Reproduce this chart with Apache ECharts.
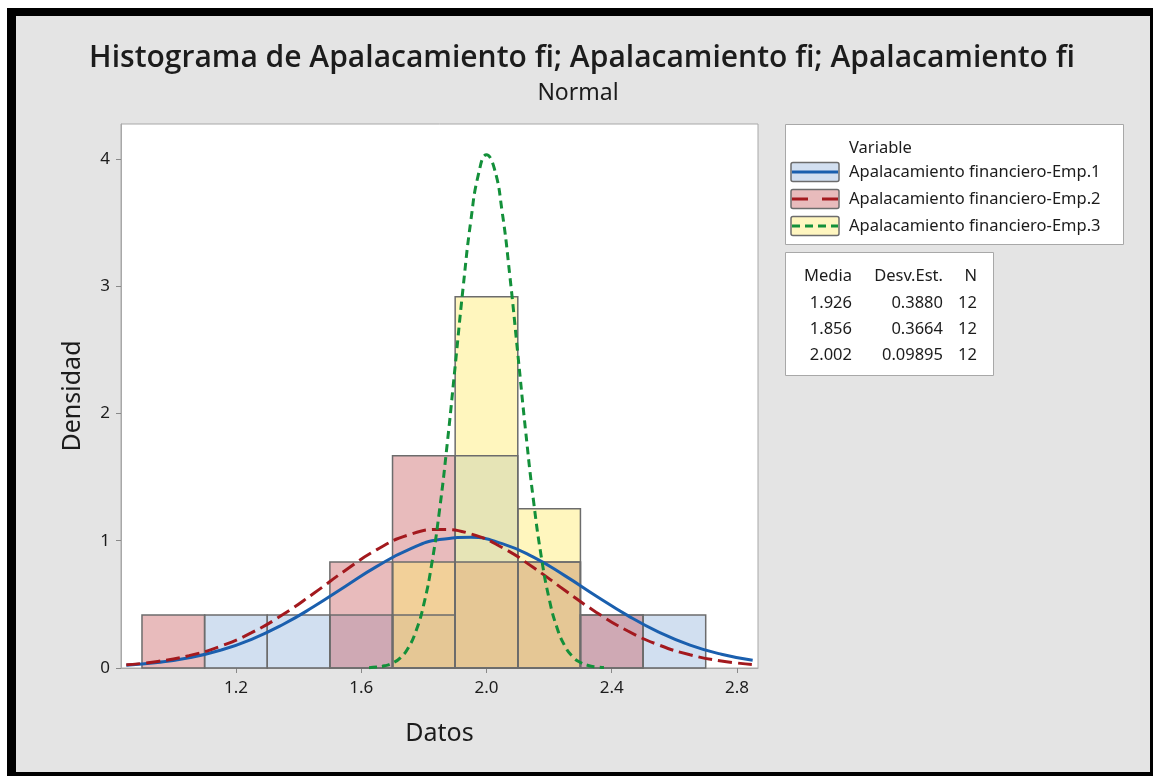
<!DOCTYPE html>
<html>
<head>
<meta charset="utf-8">
<script src="https://cdn.jsdelivr.net/npm/echarts@6/dist/echarts.min.js"></script>
<style>
  body { margin: 0; background: #fff; }
  #frame { position: absolute; left: 7px; top: 8px; width: 1146px; height: 768px; background: #000; }
  #panel { position: absolute; left: 16px; top: 16px; width: 1134px; height: 756px; background: #e4e4e4; }
  #chart { position: absolute; left: 0; top: 0; width: 1153px; height: 776px; }
</style>
</head>
<body>
<div id="frame"></div>
<div id="panel"></div>
<div id="chart"></div>
<script>
// histogram bins (width 0.2) and densities
const binEdges = [0.9, 1.1, 1.3, 1.5, 1.7, 1.9, 2.1, 2.3, 2.5, 2.7];
const dens1 = [0, 0.4167, 0.4167, 0.4167, 0.4167, 1.6667, 0.8333, 0.4167, 0.4167];
const dens2 = [0.4167, 0, 0, 0.8333, 1.6667, 0.8333, 0.8333, 0.4167, 0];
const dens3 = [0, 0, 0, 0, 0.8333, 2.9167, 1.25, 0, 0];

const seriesNames = [
  'Apalacamiento financiero-Emp.1',
  'Apalacamiento financiero-Emp.2',
  'Apalacamiento financiero-Emp.3'
];

// fitted normal curves
const curveX = [0.85, 0.95, 1.05, 1.15, 1.25, 1.35, 1.45, 1.55, 1.65, 1.75, 1.85,
  1.95, 2.05, 2.15, 2.25, 2.35, 2.45, 2.55, 2.65, 2.75, 2.85];
const fit1 = [0.022, 0.0435, 0.0804, 0.1391, 0.2254, 0.3417, 0.4845, 0.6429, 0.7984, 0.9277, 1.0087,
  1.0262, 0.977, 0.8704, 0.7255, 0.5659, 0.4131, 0.2822, 0.1803, 0.1078, 0.0603];
const fit2 = [0.0251, 0.0512, 0.0969, 0.1701, 0.2773, 0.4196, 0.5893, 0.7682, 0.9296, 1.0442, 1.0887,
  1.0535, 0.9464, 0.7892, 0.6107, 0.4388, 0.2926, 0.1811, 0.1041, 0.0555, 0.0275];
const fit3X = [1.625, 1.65, 1.675, 1.7, 1.725, 1.75, 1.775, 1.8, 1.825, 1.85, 1.875, 1.9, 1.925,
  1.95, 1.975, 2.0, 2.025, 2.05, 2.075, 2.1, 2.125, 2.15, 2.175, 2.2, 2.225, 2.25, 2.275, 2.3,
  2.325, 2.35, 2.375];
const fit3 = [0.0028, 0.0072, 0.0171, 0.0383, 0.0801, 0.1574, 0.2902, 0.5019, 0.8141, 1.2391,
  1.7692, 2.3703, 2.9787, 3.5117, 3.8846, 4.031, 3.9245, 3.5843, 3.0714, 2.4691, 1.8619, 1.3172,
  0.8745, 0.5447, 0.3181, 0.1743, 0.0896, 0.0433, 0.0196, 0.0083, 0.0033];

// summary table
const medias = ['1.926', '1.856', '2.002'];
const desvs = ['0.3880', '0.3664', '0.09895'];
const ns = ['12', '12', '12'];

const xTicks = [1.2, 1.6, 2.0, 2.4, 2.8];
const yTicks = [0, 1, 2, 3, 4];

const FONT = 'Noto Sans';
const fills = ['rgb(153,184,222)', 'rgb(204,104,106)', 'rgb(255,235,111)'];
const swatch = ['#d2dff0', '#e8bbbc', '#fff6c0'];
const lineColors = ['#1a5fae', '#a3191e', '#13903a'];
const lineDash = ['solid', [14, 6], [8, 5]];
const ALPHA = 0.45;

function toBars(dens) {
  const out = [];
  for (let i = 0; i < dens.length; i++) {
    if (dens[i] > 0) out.push([binEdges[i], binEdges[i + 1], dens[i]]);
  }
  return out;
}

function barRenderer(fill) {
  return function (params, api) {
    const p0 = api.coord([api.value(0), api.value(2)]);
    const p1 = api.coord([api.value(1), 0]);
    return {
      type: 'rect',
      shape: { x: p0[0], y: p0[1], width: p1[0] - p0[0], height: p1[1] - p0[1] },
      style: { fill: fill, opacity: ALPHA }
    };
  };
}

function edgeRenderer(params, api) {
  const p0 = api.coord([api.value(0), api.value(2)]);
  const p1 = api.coord([api.value(1), 0]);
  return {
    type: 'rect',
    shape: { x: p0[0], y: p0[1], width: p1[0] - p0[0], height: p1[1] - p0[1] },
    style: { fill: 'none', stroke: '#6c6c6c', lineWidth: 1.5 }
  };
}

const densAll = [dens1, dens2, dens3];
const fits = [
  curveX.map((x, i) => [x, fit1[i]]),
  curveX.map((x, i) => [x, fit2[i]]),
  fit3X.map((x, i) => [x, fit3[i]])
];

const series = [];
densAll.forEach((d, i) => {
  series.push({
    type: 'custom', name: seriesNames[i], renderItem: barRenderer(fills[i]),
    encode: { x: [0, 1], y: 2 }, data: toBars(d), z: 2
  });
});
densAll.forEach((d, i) => {
  series.push({
    type: 'custom', renderItem: edgeRenderer,
    encode: { x: [0, 1], y: 2 }, data: toBars(d), z: 3
  });
});
fits.forEach((f, i) => {
  series.push({
    type: 'line', name: seriesNames[i], data: f, smooth: true, showSymbol: false,
    lineStyle: { color: lineColors[i], width: 3, type: lineDash[i] }, z: 5
  });
});

// title, legend and stats boxes
const SMALL = '16.5px "' + FONT + '"';
const graphic = [
  { type: 'text', x: 582, y: 58, style: { text: 'Histograma de Apalacamiento fi; Apalacamiento fi; Apalacamiento fi',
    font: '600 30px "Open Sans"', fill: '#1c1c1c', align: 'center', verticalAlign: 'middle' } },
  { type: 'text', x: 578, y: 93, style: { text: 'Normal', font: '23px "' + FONT + '"', fill: '#1c1c1c',
    align: 'center', verticalAlign: 'middle' } },
  { type: 'rect', shape: { x: 785.5, y: 124.5, width: 338, height: 120 },
    style: { fill: '#fff', stroke: '#a8a8a8', lineWidth: 1 } },
  { type: 'text', x: 849, y: 148, style: { text: 'Variable', font: SMALL, fill: '#1c1c1c',
    verticalAlign: 'middle' } },
  { type: 'rect', shape: { x: 785.5, y: 252.5, width: 208, height: 123 },
    style: { fill: '#fff', stroke: '#a8a8a8', lineWidth: 1 } }
];
const rowY = [172, 199, 226];
seriesNames.forEach((name, i) => {
  graphic.push({ type: 'rect', shape: { x: 791, y: rowY[i] - 9.5, width: 48, height: 19, r: 2 },
    style: { fill: swatch[i], stroke: '#6c6c6c', lineWidth: 1.5 } });
  graphic.push({ type: 'line', shape: { x1: 792, y1: rowY[i], x2: 838, y2: rowY[i] },
    style: { stroke: lineColors[i], lineWidth: 3, lineDash: lineDash[i] === 'solid' ? null : (i === 1 ? [16, 14] : [8, 5]) } });
  graphic.push({ type: 'text', x: 849, y: rowY[i], style: { text: name, font: SMALL,
    fill: '#1c1c1c', verticalAlign: 'middle' } });
});
const colRight = [852, 943, 977];
const headers = ['Media', 'Desv.Est.', 'N'];
headers.forEach((h, j) => {
  graphic.push({ type: 'text', x: colRight[j], y: 276, style: { text: h, font: SMALL,
    fill: '#1c1c1c', align: 'right', verticalAlign: 'middle' } });
});
const tableY = [303, 329, 355];
medias.forEach((m, i) => {
  [m, desvs[i], ns[i]].forEach((v, j) => {
    graphic.push({ type: 'text', x: colRight[j], y: tableY[i], style: { text: v, font: SMALL,
      fill: '#1c1c1c', align: 'right', verticalAlign: 'middle' } });
  });
});

const chart = echarts.init(document.getElementById('chart'));
chart.setOption({
  animation: false,
  grid: { left: 121, top: 124, width: 637, height: 544, show: true, backgroundColor: '#fff',
    borderColor: '#a8a8a8', borderWidth: 1 },
  xAxis: {
    type: 'value', min: 0.833, max: 2.867,
    name: 'Datos', nameLocation: 'middle', nameGap: 53,
    nameTextStyle: { fontFamily: FONT, fontSize: 25, color: '#1c1c1c' },
    axisLine: { show: true, lineStyle: { color: '#a8a8a8' } },
    axisTick: { show: true, length: 5, customValues: xTicks, lineStyle: { color: '#888' } },
    axisLabel: { customValues: xTicks, margin: 12, fontFamily: FONT, fontSize: 17, color: '#1c1c1c',
      formatter: v => v.toFixed(1) },
    splitLine: { show: false }
  },
  yAxis: {
    type: 'value', min: 0, max: 4.273,
    name: 'Densidad', nameLocation: 'middle', nameGap: 36,
    nameTextStyle: { fontFamily: FONT, fontSize: 25, color: '#1c1c1c' },
    axisLine: { show: true, lineStyle: { color: '#a8a8a8' } },
    axisTick: { show: true, length: 5, customValues: yTicks, lineStyle: { color: '#888' } },
    axisLabel: { customValues: yTicks, margin: 11, fontFamily: FONT, fontSize: 17, color: '#1c1c1c' },
    splitLine: { show: false }
  },
  series: series,
  graphic: graphic
});
</script>
</body>
</html>
